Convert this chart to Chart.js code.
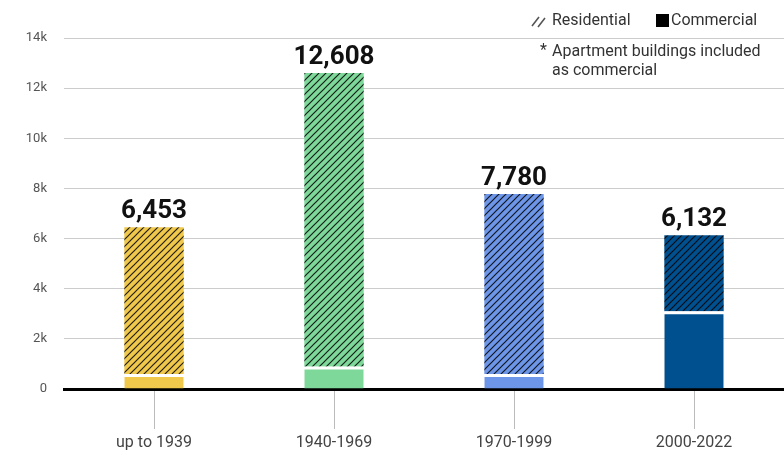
<!DOCTYPE html>
<html><head><meta charset="utf-8">
<script src="https://cdn.jsdelivr.net/npm/chart.js@4"></script>
<style>html,body{margin:0;padding:0;background:#fff}#wrap{width:784px;height:462px;position:relative}</style>
</head><body><div id="wrap"><canvas id="c" width="784" height="462"></canvas></div>
<script>
const categories = ['up to 1939', '1940-1969', '1970-1999', '2000-2022'];
const totals = [6453, 12608, 7780, 6132];
const commercial = [600, 900, 600, 3100];
const residential = totals.map((t, i) => t - commercial[i]);
const yTicks = [0, 2000, 4000, 6000, 8000, 10000, 12000, 14000];
const colors = ['#F0C94C', '#7DD89A', '#6D96E8', '#00508F'];

function hatch(color) {
  const s = 7, c = document.createElement('canvas');
  c.width = s; c.height = s;
  const g = c.getContext('2d');
  g.fillStyle = color; g.fillRect(0, 0, s, s);
  g.strokeStyle = 'rgba(0,0,0,0.85)'; g.lineWidth = 1.2;
  g.beginPath();
  g.moveTo(0, s); g.lineTo(s, 0);
  g.moveTo(-1, 1); g.lineTo(1, -1);
  g.moveTo(s - 1, s + 1); g.lineTo(s + 1, s - 1);
  g.stroke();
  return document.getElementById('c').getContext('2d').createPattern(c, 'repeat');
}
const patterns = colors.map(hatch);

const font = 'Roboto';
const extras = {
  id: 'extras',
  afterDatasetsDraw(chart) {
    const ctx = chart.ctx;
    const meta = chart.getDatasetMeta(1);
    ctx.save();
    ctx.font = 'bold 26px ' + font;
    ctx.fillStyle = '#111';
    ctx.textAlign = 'center';
    ctx.textBaseline = 'alphabetic';
    meta.data.forEach((bar, i) => {
      ctx.fillText(totals[i].toLocaleString('en-US'), bar.x, bar.y - 9);
    });
    // legend
    ctx.font = '16px ' + font;
    ctx.fillStyle = '#333';
    ctx.textAlign = 'left';
    ctx.textBaseline = 'middle';
    ctx.strokeStyle = '#555'; ctx.lineWidth = 1.6;
    ctx.beginPath();
    ctx.moveTo(532, 26); ctx.lineTo(539, 17);
    ctx.moveTo(538, 27); ctx.lineTo(545, 18);
    ctx.stroke();
    ctx.fillText('Residential', 552, 21);
    ctx.fillStyle = '#000';
    ctx.fillRect(656, 14, 13, 13);
    ctx.fillStyle = '#333';
    ctx.fillText('Commercial', 671, 21);
    ctx.fillText('*', 540, 51);
    ctx.fillText('Apartment buildings included', 552, 52);
    ctx.fillText('as commercial', 552, 71);
    ctx.restore();
  }
};

new Chart(document.getElementById('c'), {
  type: 'bar',
  data: {
    labels: categories,
    datasets: [
      { label: 'Commercial', data: commercial, backgroundColor: colors,
        borderColor: '#fff', borderWidth: { top: 3, left: 0, right: 0, bottom: 0 }, borderSkipped: false },
      { label: 'Residential', data: residential, backgroundColor: patterns, borderWidth: 0 }
    ]
  },
  options: {
    responsive: false, animation: false,
    layout: { padding: { top: 38, left: 0, right: 0, bottom: 0 } },
    plugins: { legend: { display: false }, tooltip: { enabled: false } },
    datasets: { bar: { categoryPercentage: 1, barPercentage: 0.33 } },
    scales: {
      x: {
        stacked: true,
        grid: { offset: false, drawOnChartArea: false, drawTicks: true, tickLength: 40, color: '#bbb' },
        border: { display: true, color: '#000', width: 3 },
        ticks: { font: { family: font, size: 16 }, color: '#444', padding: 4 },
        afterFit(s) { s.height = 73; }
      },
      y: {
        stacked: true, min: 0, max: 14000,
        afterBuildTicks(s) { s.ticks = yTicks.map(v => ({ value: v })); },
        grid: { color: '#ccc', drawTicks: false, lineWidth: 1 },
        border: { display: false },
        ticks: { font: { family: font, size: 13 }, color: '#555', padding: 17,
          callback: v => v === 0 ? '0' : (v / 1000) + 'k' },
        afterFit(s) { s.width = 64; }
      }
    }
  },
  plugins: [extras]
});
</script></body></html>
